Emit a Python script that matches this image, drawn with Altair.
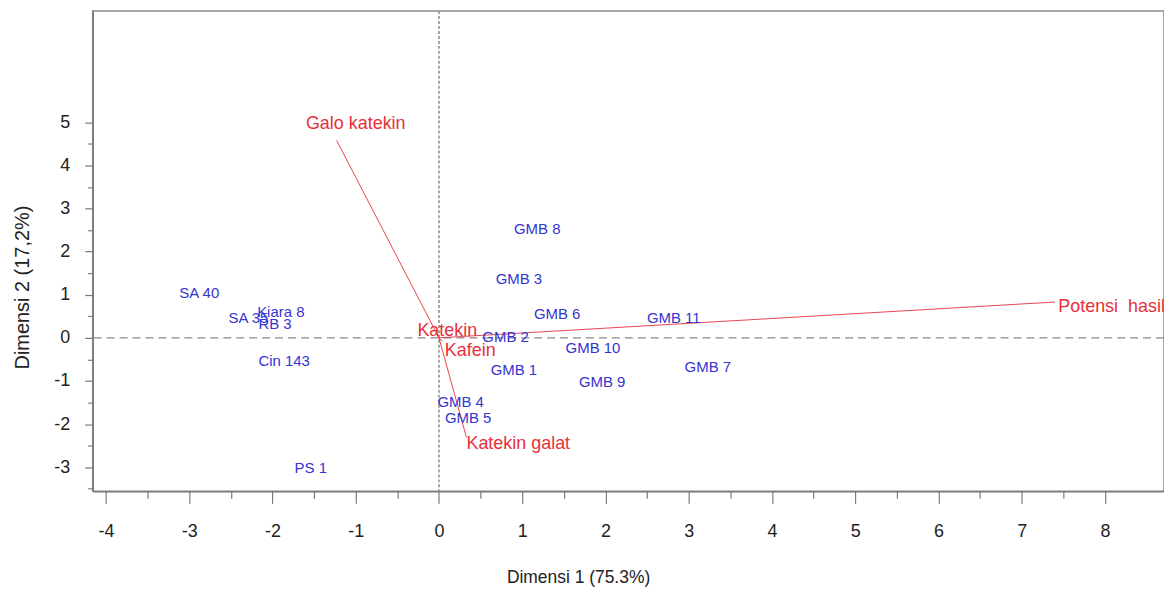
import altair as alt
import pandas as pd

# Genotype scores (blue labels)
genotypes = ["SA 40", "SA 35", "Kiara 8", "RB 3", "Cin 143", "PS 1",
             "GMB 8", "GMB 3", "GMB 6", "GMB 11", "GMB 2", "GMB 10",
             "GMB 1", "GMB 9", "GMB 7", "GMB 4", "GMB 5"]
dim1 = [-2.88, -2.29, -1.90, -1.97, -1.86, -1.54,
        1.18, 0.96, 1.42, 2.82, 0.80, 1.85,
        0.90, 1.96, 3.23, 0.26, 0.35]
dim2 = [1.04, 0.46, 0.60, 0.32, -0.53, -3.01,
        2.52, 1.36, 0.55, 0.46, 0.02, -0.23,
        -0.74, -1.02, -0.67, -1.48, -1.85]

# Trait vectors (red)
traits = ["Galo katekin", "Potensi\u00a0 hasil", "Katekin galat", "Katekin", "Kafein"]
trait_d1 = [-1.23, 7.40, 0.33, -0.02, 0.04]
trait_d2 = [4.58, 0.83, -2.31, 0.06, -0.08]
label_d1 = [-1.00, 7.44, 0.33, 0.10, 0.07]
label_d2 = [4.95, 0.72, -2.47, 0.16, -0.30]
label_align = ["center", "left", "left", "center", "left"]

X_DOMAIN = [-4.16, 8.71]
Y_DOMAIN = [-3.56, 7.58]
x_major = list(range(-4, 9))
x_minor = [v + 0.5 for v in range(-4, 8)]
y_major = list(range(-3, 6))
y_minor = [v + 0.5 for v in range(-4, 5)]

FONT = "Liberation Sans"
AXIS_COLOR = "#7a7a7a"
BLUE = "#3535d0"
RED = "#e8303a"

geno_df = pd.DataFrame({"d1": dim1, "d2": dim2, "name": genotypes})
trait_df = pd.DataFrame({"o1": [0.0] * len(traits), "o2": [0.0] * len(traits),
                         "d1": trait_d1, "d2": trait_d2,
                         "l1": label_d1, "l2": label_d2,
                         "name": traits, "align": label_align})

xs = alt.Scale(domain=X_DOMAIN, nice=False, zero=False)
ys = alt.Scale(domain=Y_DOMAIN, nice=False, zero=False)

x_major_axis = alt.Axis(
    values=x_major, orient="bottom", grid=False, tickSize=12, tickWidth=1.2,
    tickColor=AXIS_COLOR, domainColor=AXIS_COLOR, domainWidth=1.5,
    labelFontSize=18, labelColor="#222222", labelPadding=19, labelFont=FONT,
    labelExpr="'' + datum.value",
    title="Dimensi 1 (75.3%)", titleFontSize=17.5, titleFontWeight="normal",
    titleColor="#222222", titleFont=FONT, titleX=487, titleY=86,
    titleAlign="center", titleBaseline="middle")
y_major_axis = alt.Axis(
    values=y_major, orient="left", grid=False, tickSize=8, tickWidth=1.2,
    tickColor=AXIS_COLOR, domainColor=AXIS_COLOR, domainWidth=1.5,
    labelFontSize=18, labelColor="#222222", labelPadding=15, labelFont=FONT,
    labelExpr="'' + datum.value",
    title="Dimensi 2 (17,2%)", titleFontSize=20, titleFontWeight="normal",
    titleColor="#222222", titleFont=FONT, titleX=-70, titleY=277,
    titleAngle=270, titleAlign="center", titleBaseline="middle")
x_minor_axis = alt.Axis(values=x_minor, orient="bottom", grid=False, labels=False,
                        domain=False, tickSize=7, tickWidth=1.2,
                        tickColor=AXIS_COLOR, title=None)
y_minor_axis = alt.Axis(values=y_minor, orient="left", grid=False, labels=False,
                        domain=False, tickSize=5, tickWidth=1.2,
                        tickColor=AXIS_COLOR, title=None)

hline = alt.Chart(pd.DataFrame({"v": [0.0]})).mark_rule(
    color="#8a8a8a", strokeDash=[8, 5], strokeWidth=1.2
).encode(y=alt.Y("v:Q", scale=ys, axis=None))

vline = alt.Chart(pd.DataFrame({"v": [0.0]})).mark_rule(
    color="#8a8a8a", strokeDash=[3, 2], strokeWidth=1.5
).encode(x=alt.X("v:Q", scale=xs, axis=None))

vectors = alt.Chart(trait_df).mark_rule(color=RED, strokeWidth=0.9).encode(
    x=alt.X("o1:Q", scale=xs, axis=x_minor_axis),
    y=alt.Y("o2:Q", scale=ys, axis=y_minor_axis),
    x2="d1:Q", y2="d2:Q")

trait_center = alt.Chart(trait_df).transform_filter(
    alt.datum.align == "center"
).mark_text(color=RED, fontSize=18, font=FONT, align="center", baseline="middle").encode(
    x=alt.X("l1:Q", scale=xs, axis=None),
    y=alt.Y("l2:Q", scale=ys, axis=None),
    text="name:N")

trait_left = alt.Chart(trait_df).transform_filter(
    alt.datum.align == "left"
).mark_text(color=RED, fontSize=18, font=FONT, align="left", baseline="middle").encode(
    x=alt.X("l1:Q", scale=xs, axis=None),
    y=alt.Y("l2:Q", scale=ys, axis=None),
    text="name:N")

geno = alt.Chart(geno_df).mark_text(color=BLUE, fontSize=15, font=FONT,
                                    align="center", baseline="middle").encode(
    x=alt.X("d1:Q", scale=xs, axis=x_major_axis),
    y=alt.Y("d2:Q", scale=ys, axis=y_major_axis),
    text="name:N")

chart = alt.layer(
    hline, vline, vectors, trait_center, trait_left, geno
).resolve_axis(
    x="independent", y="independent"
).properties(
    width=1075, height=482,
    autosize=alt.AutoSizeParams(type="none"),
    padding={"left": 85, "top": 2, "right": 0, "bottom": 100},
    background="white"
).configure(
    font=FONT
).configure_view(
    stroke="#8a8a8a", strokeWidth=1.5
)

chart.save("out.html", embed_options={"renderer": "svg", "actions": False})
